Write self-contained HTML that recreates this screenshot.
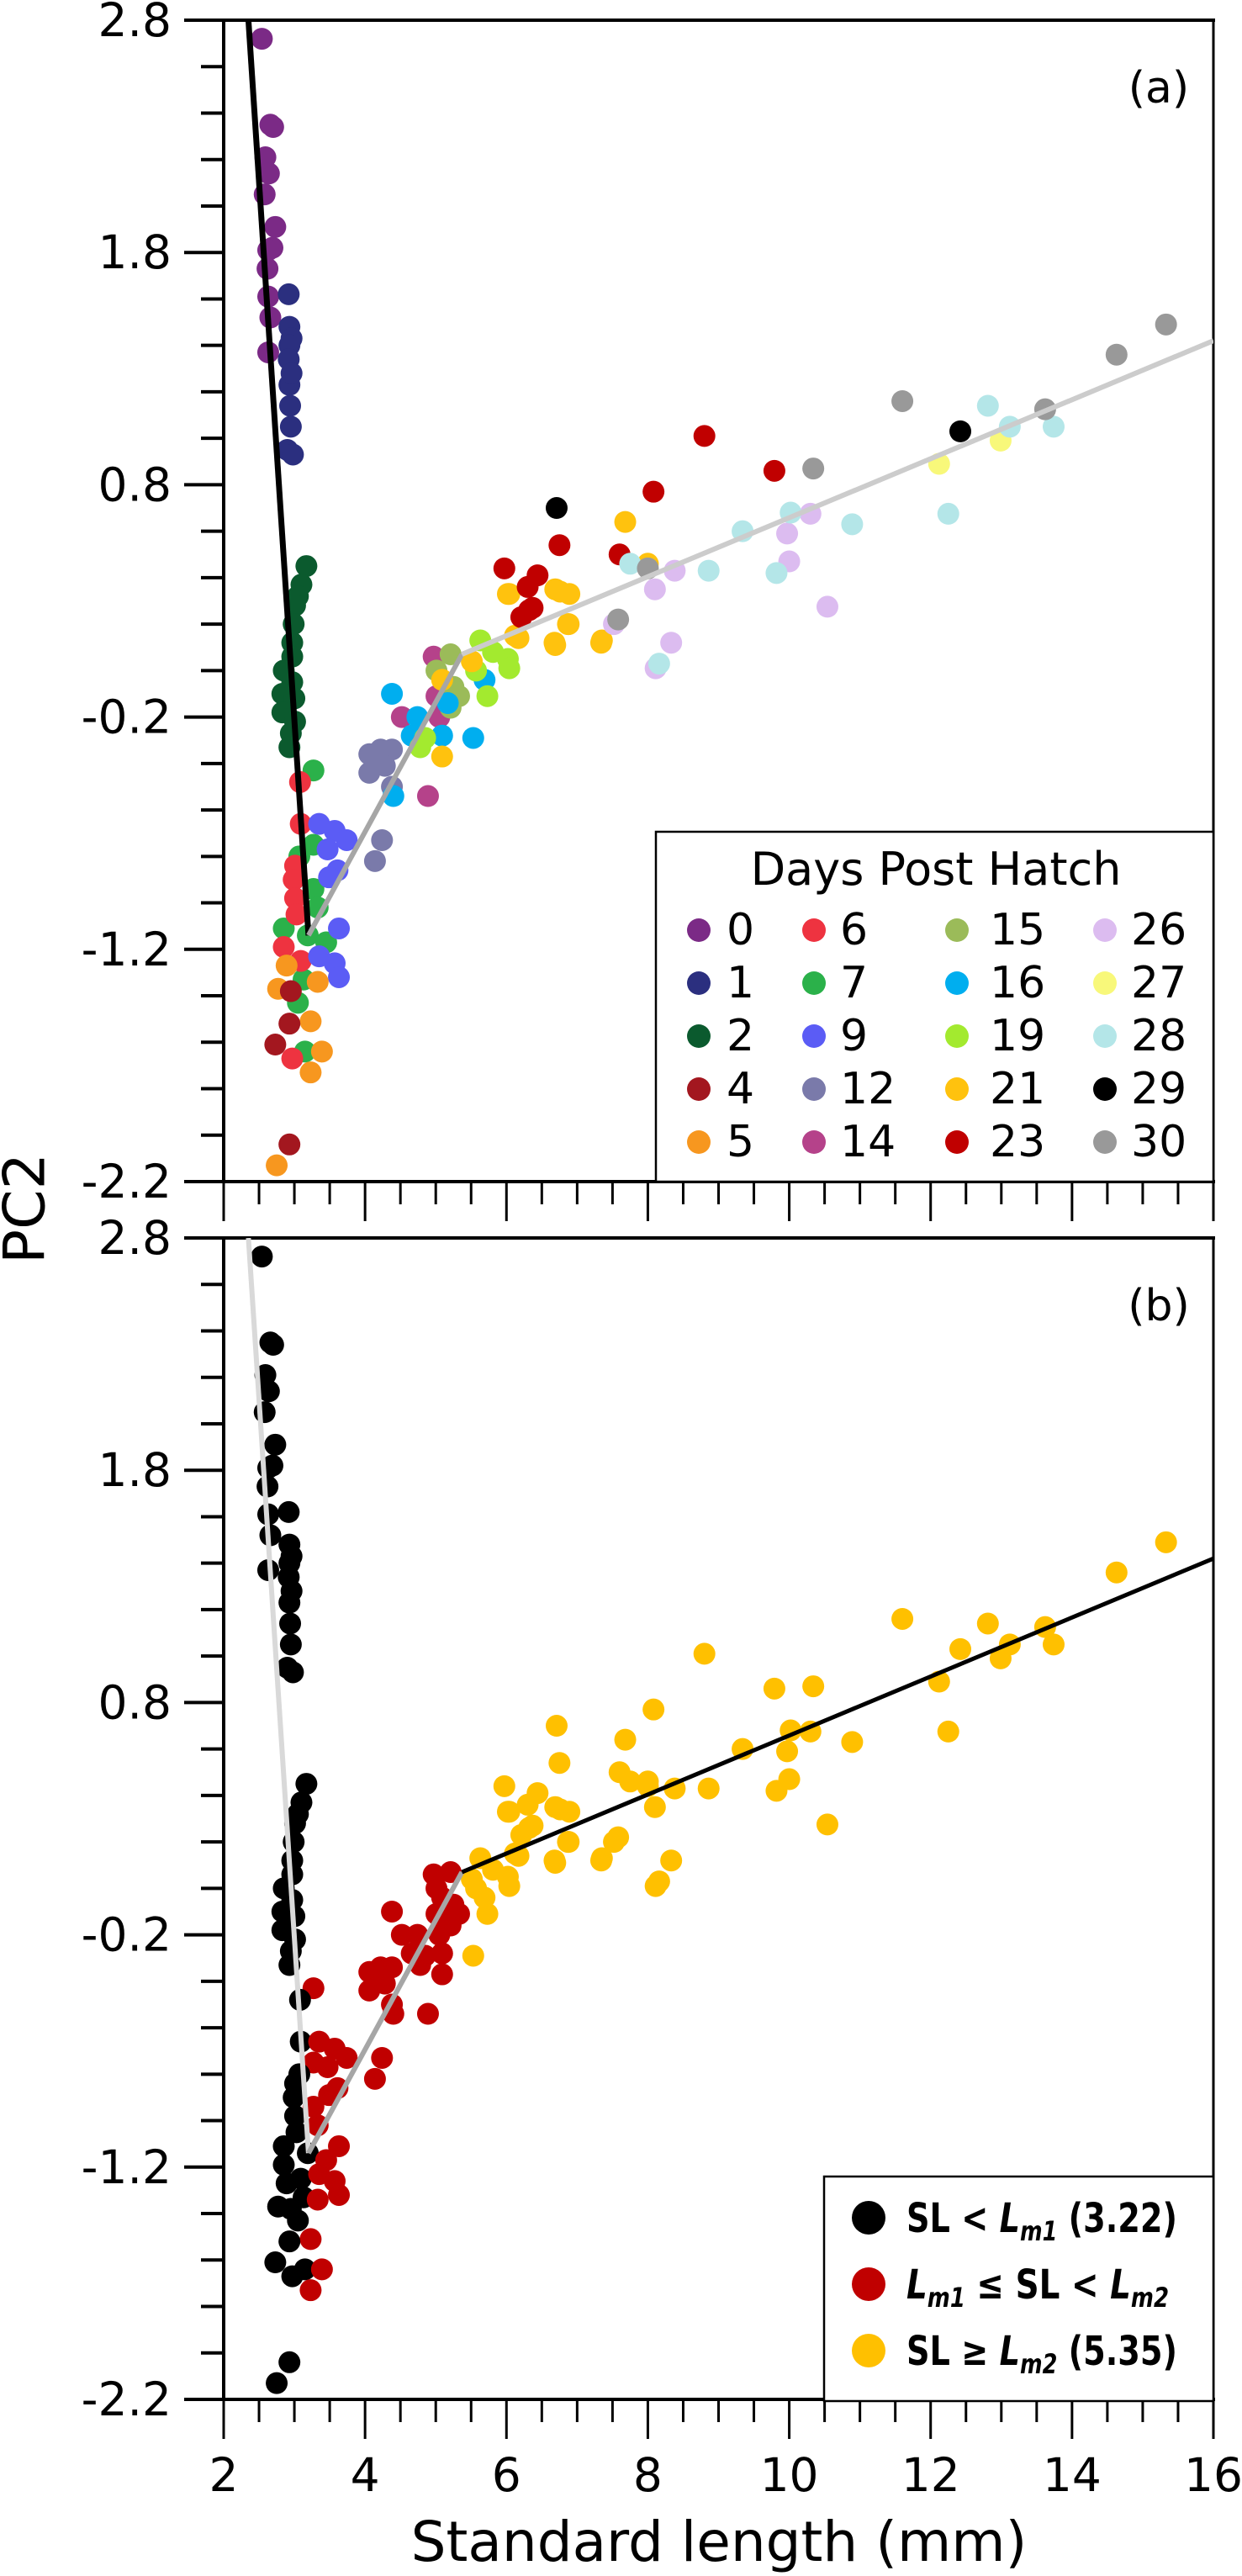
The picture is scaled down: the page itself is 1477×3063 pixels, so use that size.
<!DOCTYPE html>
<html><head><meta charset="utf-8"><style>
html,body{margin:0;padding:0;background:#fff;}
svg{display:block;}
text{font-family:"DejaVu Sans","Liberation Sans",sans-serif;}
</style></head><body>
<svg id="chart" width="1477" height="3063" viewBox="0 0 1477 3063" xmlns="http://www.w3.org/2000/svg">
<g id="panelA"></g>
<g id="panelB"></g>
<text x="0" y="0" font-size="68" text-anchor="middle" dominant-baseline="central" transform="translate(30,1437) rotate(-90)">PC2</text>
<text x="855" y="3045" font-size="66" text-anchor="middle">Standard length (mm)</text>
</svg>
<script>
// ---- data ----
const sl  = [2.54,2.66,2.70,2.59,2.64,2.58,2.73,2.69,2.63,2.62,2.63,2.66,2.63,
 2.92,2.93,2.96,2.93,2.92,2.93,2.94,2.95,2.90,2.98,2.96,
 3.17,3.10,3.05,3.01,2.99,2.97,2.97,2.85,2.97,2.83,3.00,2.83,3.01,2.95,2.93,
 3.27,3.27,3.07,3.27,3.19,2.85,3.45,3.13,3.05,3.15,3.33,
 3.08,3.09,3.01,2.99,3.01,3.03,2.85,3.09,2.97,
 3.35,3.57,3.74,3.47,3.61,3.49,3.63,3.35,3.57,3.63,
 2.89,3.33,2.77,3.23,3.39,3.23,2.75,
 2.95,2.93,2.73,2.93,
 4.22,4.06,4.38,4.06,4.38,4.24,4.14,4.28,
 4.52,4.97,5.01,4.89,5.05,
 5.21,5.01,5.25,5.21,5.33,
 4.38,4.74,4.66,5.09,5.17,5.53,4.40,5.69,
 5.63,6.02,5.81,5.57,5.73,4.85,4.78,6.04,
 5.09,5.51,5.09,6.12,6.68,6.88,7.35,6.02,6.76,7.68,8.0,6.69,6.87,6.69,6.89,6.04,6.17,7.34,
 6.32,8.8,9.79,8.08,6.75,7.6,6.37,6.21,6.44,6.3,5.97,
 8.38,8.1,10.3,9.97,10.0,10.54,8.33,8.11,7.52,
 12.99,12.12,
 12.81,13.12,13.74,12.25,7.75,8.86,9.34,10.02,10.89,9.82,8.16,
 6.71,12.42,
 15.33,14.63,11.6,13.62,10.34,8.0,7.58];
const pc2 = [2.72,2.35,2.34,2.21,2.14,2.05,1.91,1.82,1.81,1.73,1.61,1.52,1.37,
 1.62,1.48,1.43,1.40,1.34,1.23,1.14,1.05,0.95,0.93,1.28,
 0.45,0.37,0.32,0.28,0.20,0.12,0.06,0.00,-0.05,-0.10,-0.12,-0.18,-0.22,-0.27,-0.33,
 -0.43,-0.75,-0.80,-0.94,-1.14,-1.11,-1.17,-1.33,-1.43,-1.64,-1.02,
 -0.48,-0.66,-0.84,-0.90,-0.98,-1.05,-1.19,-1.25,-1.67,
 -0.66,-0.69,-0.73,-0.77,-0.86,-0.89,-1.11,-1.23,-1.26,-1.32,
 -1.27,-1.34,-1.37,-1.51,-1.64,-1.73,-2.13,
 -1.38,-1.52,-1.61,-2.04,
 -0.34,-0.36,-0.34,-0.44,-0.50,-0.73,-0.82,-0.41,
 -0.20,0.06,-0.11,-0.54,-0.20,
 0.07,0.00,-0.07,-0.16,-0.11,
 -0.10,-0.20,-0.28,-0.28,-0.14,-0.29,-0.54,-0.04,
 0.13,0.05,0.08,0.00,-0.11,-0.29,-0.33,0.01,
 -0.37,0.04,-0.04,0.15,0.12,0.20,0.13,0.33,0.34,0.64,0.46,0.11,0.20,0.35,0.33,0.33,0.14,0.12,
 0.26,1.01,0.86,0.77,0.54,0.50,0.27,0.23,0.41,0.36,0.44,
 0.43,0.35,0.675,0.59,0.47,0.275,0.12,0.01,0.20,
 0.99,0.89,
 1.14,1.05,1.05,0.675,0.46,0.43,0.60,0.68,0.63,0.42,0.03,
 0.70,1.03,
 1.49,1.36,1.16,1.125,0.87,0.44,0.22];
const day = [0,0,0,0,0,0,0,0,0,0,0,0,0,
 1,1,1,1,1,1,1,1,1,1,1,
 2,2,2,2,2,2,2,2,2,2,2,2,2,2,2,
 7,7,7,7,7,7,7,7,7,7,7,
 6,6,6,6,6,6,6,6,6,
 9,9,9,9,9,9,9,9,9,9,
 5,5,5,5,5,5,5,
 4,4,4,4,
 12,12,12,12,12,12,12,12,
 14,14,14,14,14,
 15,15,15,15,15,
 16,16,16,16,16,16,16,16,
 19,19,19,19,19,19,19,19,
 21,21,21,21,21,21,21,21,21,21,21,21,21,21,21,21,21,21,
 23,23,23,23,23,23,23,23,23,23,23,
 26,26,26,26,26,26,26,26,26,
 27,27,
 28,28,28,28,28,28,28,28,28,28,28,
 29,29,
 30,30,30,30,30,30,30];
const legendDays = [0,1,2,4,5,6,7,9,12,14,15,16,19,21,23,26,27,28,29,30];
const yTicks = [2.8,1.8,0.8,-0.2,-1.2,-2.2];
const xTicks = [2,4,6,8,10,12,14,16];
const breakpoints = [3.22,5.35];
const segX = [2.35,3.2,5.37,16];
const segY = [2.8,-1.14,0.07,1.42];

const dayColor = {0:'#7b2a86',1:'#2b2f7f',2:'#0b5a2e',4:'#a3171f',5:'#f7971f',6:'#ee3340',7:'#2bb14a',9:'#5b5cf5',12:'#7a7aaa',14:'#b5428a',15:'#9bbb59',16:'#00aeef',19:'#a3ea2f',21:'#ffc20e',23:'#c00000',26:'#dcbcf0',27:'#f8f87a',28:'#b4e6e8',29:'#000000',30:'#999999'};
const grpColor = ['#000000','#c00000','#ffc000'];

const NS='http://www.w3.org/2000/svg';
const X0=266, X1=1443;
function sx(v){return X0+(v-2)/(16-2)*(X1-X0);}
function mk(tag,attrs,parent){const e=document.createElementNS(NS,tag);for(const k in attrs)e.setAttribute(k,attrs[k]);parent.appendChild(e);return e;}

function panel(g,top,mode){
  const bot=top+1381;
  const sy=v=>top+(2.8-v)/5*(bot-top);
  let f=mk('rect',{x:X0,y:top,width:X1-X0,height:bot-top,fill:'none',stroke:'#000','stroke-width':3},g);
  
  
  let l1=mk('line',{x1:X0,y1:top,x2:X0,y2:bot,stroke:'#000','stroke-width':4},g);
  
  
  let l2=mk('line',{x1:X0-47,y1:bot,x2:X1+2,y2:bot,stroke:'#000','stroke-width':4},g);
  
  
  let l3=mk('line',{x1:X0-47,y1:top,x2:X1+2,y2:top,stroke:'#000','stroke-width':4},g);
  
  
  for(let v=-2.2;v<=2.81;v+=0.2){
    const major=yTicks.some(t=>Math.abs(t-v)<1e-6);
    const t=mk('line',{x1:X0-(major?47:27),y1:sy(v),x2:X0,y2:sy(v),stroke:'#000','stroke-width':4},g);
    
    
  }
  yTicks.forEach(v=>{
    const t=mk('text',{x:204,y:sy(v),'font-size':55,'text-anchor':'end','dominant-baseline':'central'},g);
    t.textContent=v.toFixed(1);
    
    
  });
  for(let v=2;v<=16.01;v+=0.5){
    const major=xTicks.some(t=>Math.abs(t-v)<1e-6);
    const t=mk('line',{x1:sx(v),y1:bot,x2:sx(v),y2:bot+(major?47:27),stroke:'#000','stroke-width':3},g);
    
    
  }
  if(mode==='b'){
    xTicks.forEach(v=>{
      const t=mk('text',{x:sx(v),y:bot+90,'font-size':55,'text-anchor':'middle','dominant-baseline':'central'},g);
      t.textContent=v;
      
      
    });
  }
  const cid='clip'+mode;
  const cp=mk('clipPath',{id:cid},g);
  mk('rect',{x:X0,y:top,width:X1-X0,height:bot-top},cp);
  const pts=mk('g',{'clip-path':'url(#'+cid+')'},g);
  
  
  for(let i=0;i<sl.length;i++){
    let c;
    if(mode==='a') c=dayColor[day[i]];
    else c=grpColor[sl[i]<breakpoints[0]?0:(sl[i]<breakpoints[1]?1:2)];
    const p=mk('circle',{cx:sx(sl[i]),cy:sy(pc2[i]),r:13,fill:c},pts);
    
    
  }
  const segCol = mode==='a'?['#000000','#a6a6a6','#cccccc']:['#d9d9d9','#a6a6a6','#000000'];
  const segW = mode==='a'?[7,6,6]:[6,6,5];
  for(let s=0;s<3;s++){
    const ln=mk('line',{x1:sx(segX[s]),y1:sy(segY[s]),x2:sx(segX[s+1]),y2:sy(segY[s+1]),stroke:segCol[s],'stroke-width':segW[s]},pts);
    
    
  }
  const lab=mk('text',{x:1378,y:top+81,'font-size':52,'text-anchor':'middle','dominant-baseline':'central','font-family':'Liberation Sans, sans-serif'},g);
  lab.textContent=mode==='a'?'(a)':'(b)';
  
  
}

const gA=document.getElementById('panelA');
const gB=document.getElementById('panelB');
panel(gA,24,'a');
panel(gB,1472,'b');

const la=mk('g',{},gA);


mk('rect',{x:780,y:989,width:663,height:416,fill:'#fff',stroke:'#000','stroke-width':2.5},la);
const lt=mk('text',{x:1113,y:1052,'font-size':54,'text-anchor':'middle'},la);
lt.textContent='Days Post Hatch';


const colMX=[831,968,1138,1314], colTX=[864,999,1177,1345];
legendDays.forEach((d,i)=>{
  const col=Math.floor(i/5), row=i%5;
  const cy=1106+row*63;
  const e=mk('g',{},la);
  
  
  mk('ellipse',{cx:colMX[col],cy:cy,rx:14,ry:14,fill:dayColor[d]},e);
  const t=mk('text',{x:colTX[col],y:cy,'font-size':52,'dominant-baseline':'central'},e);
  t.textContent=d;
});

const lb=mk('g',{},gB);


mk('rect',{x:980,y:2588,width:463,height:267,fill:'#fff',stroke:'#000','stroke-width':2.5},lb);
const rowsB=[
  'SL &lt; <tspan font-style="italic">L<tspan font-size="32" dy="10">m1</tspan></tspan><tspan dy="-10"> (3.22)</tspan>',
  '<tspan font-style="italic">L<tspan font-size="32" dy="10">m1</tspan></tspan><tspan dy="-10"> ≤ SL &lt; </tspan><tspan font-style="italic">L<tspan font-size="32" dy="10">m2</tspan></tspan>',
  'SL ≥ <tspan font-style="italic">L<tspan font-size="32" dy="10">m2</tspan></tspan><tspan dy="-10"> (5.35)</tspan>'
];
const rowW=[322,312,322];
rowsB.forEach((r,i)=>{
  const cy=2637+i*79;
  const e=mk('g',{},lb);
  
  
  mk('circle',{cx:1033,cy:cy,r:20,fill:grpColor[i]},e);
  const t=mk('text',{x:1078,y:cy+17,'font-size':48,'font-weight':'bold',textLength:rowW[i],lengthAdjust:'spacingAndGlyphs'},e);
  t.innerHTML=r;
});
</script>
</body></html>
